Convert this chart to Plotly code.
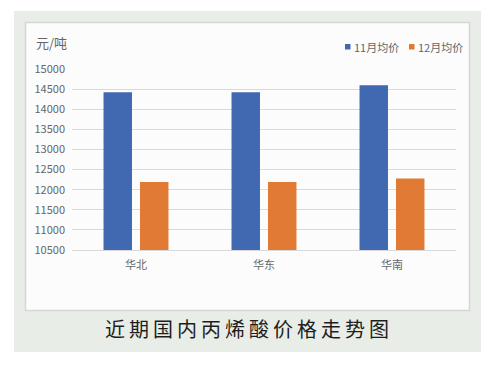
import plotly.graph_objects as go

categories = ["华北", "华东", "华南"]
nov_avg = [14425, 14425, 14595]
dec_avg = [12190, 12190, 12280]
series_names = ["11月均价", "12月均价"]
y_ticks = [10500, 11000, 11500, 12000, 12500, 13000, 13500, 14000, 14500, 15000]
unit_label = "元/吨"
caption = "近期国内丙烯酸价格走势图"

BLUE = "#4169b2"
ORANGE = "#e07a35"
FONT = "Noto Sans CJK SC"
TXT = "#666666"

W, H = 495, 367
L, R, T, B = 72, 456, 69, 250

def px_x(p):
    return (p - L) / (R - L)

def px_y(p):
    return (B - p) / (B - T)

fig = go.Figure()
fig.add_bar(x=categories, y=nov_avg, name=series_names[0], marker_color=BLUE,
            marker_line_width=0)
fig.add_bar(x=categories, y=dec_avg, name=series_names[1], marker_color=ORANGE,
            marker_line_width=0)

shapes = [
    dict(type="rect", xref="paper", yref="paper", layer="below",
         x0=px_x(14), x1=px_x(481), y0=px_y(352), y1=px_y(11),
         fillcolor="#e8ede7", line=dict(width=0)),
    dict(type="rect", xref="paper", yref="paper", layer="below",
         x0=px_x(25.5), x1=px_x(469.5), y0=px_y(310.5), y1=px_y(22.5),
         fillcolor="#fcfcfc", line=dict(color="#d6d6d6", width=1.5)),
]

annotations = [
    dict(text=unit_label, xref="paper", yref="paper", x=px_x(34), y=px_y(42),
         xanchor="left", yanchor="middle", showarrow=False,
         font=dict(size=13, color=TXT, family=FONT)),
    dict(text="\u2009".join(caption), xref="paper", yref="paper", x=px_x(246.5), y=px_y(328),
         xanchor="center", yanchor="middle", showarrow=False,
         font=dict(size=20, color="#1e1e1e", family=FONT)),
]

# custom legend: small squares + labels
legend_x = [345, 409]
for name, color, lx in zip(series_names, [BLUE, ORANGE], legend_x):
    shapes.append(dict(type="rect", xref="paper", yref="paper",
                       x0=px_x(lx), x1=px_x(lx + 5.5), y0=px_y(49.5), y1=px_y(44),
                       fillcolor=color, line=dict(width=0)))
    annotations.append(dict(text=name, xref="paper", yref="paper", x=px_x(lx + 6.5), y=px_y(47),
                            xanchor="left", yanchor="middle", showarrow=False,
                            font=dict(size=11, color=TXT, family=FONT)))

fig.update_layout(
    width=W, height=H,
    margin=dict(l=L, r=W - R, t=T, b=H - B, pad=0, autoexpand=False),
    paper_bgcolor="white",
    plot_bgcolor="rgba(0,0,0,0)",
    barmode="group",
    bargap=0.43,
    bargroupgap=0.22,
    showlegend=False,
    font=dict(family=FONT, color=TXT, size=11),
    shapes=shapes,
    annotations=annotations,
)
fig.update_xaxes(showgrid=False, showline=True, linecolor="#d9d9d9", linewidth=1,
                 ticks="", ticklabelstandoff=5, tickfont=dict(size=11, color=TXT))
fig.update_yaxes(range=[10500, 15000], tickvals=y_ticks, tickformat="d", showgrid=True,
                 gridcolor="#d9d9d9", gridwidth=1, zeroline=False, showline=False,
                 ticks="", ticklabelstandoff=6, tickfont=dict(size=11, color=TXT))

fig.write_html("out.html", config={"displayModeBar": False},
               post_script="document.body.style.margin='0px';")
